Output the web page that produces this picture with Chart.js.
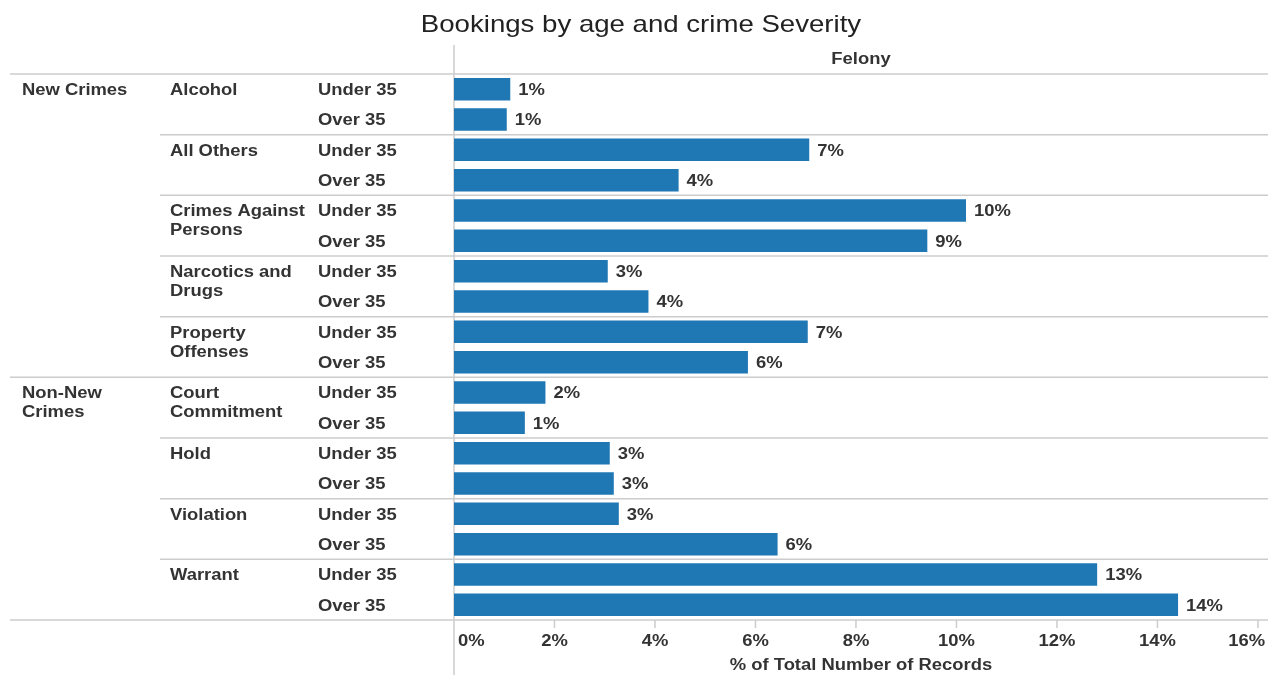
<!DOCTYPE html>
<html>
<head>
<meta charset="utf-8">
<script src="https://cdn.jsdelivr.net/npm/chart.js@4.4.1/dist/chart.umd.min.js"></script>
<style>
  html, body { margin: 0; padding: 0; background: #fff; }
  #wrap { width: 1270px; height: 675px; position: relative; }
</style>
</head>
<body>
<div id="wrap"><canvas id="chart"></canvas></div>
<script>
// data (% of total number of records, Felony)
const title = 'Bookings by age and crime Severity';
const columnHeader = 'Felony';
const axisTitle = '% of Total Number of Records';
const crimeGroups = ['New Crimes', 'Non-New Crimes'];
const newCrimeTypes = ['Alcohol', 'All Others', 'Crimes Against Persons', 'Narcotics and Drugs', 'Property Offenses'];
const nonNewCrimeTypes = ['Court Commitment', 'Hold', 'Violation', 'Warrant'];
const ageGroups = ['Under 35', 'Over 35'];
const under35 = [1.12, 7.07, 10.19, 3.06, 7.04, 1.82, 3.10, 3.28, 12.80];
const over35 = [1.05, 4.47, 9.42, 3.87, 5.85, 1.41, 3.18, 6.44, 14.41];
const xTicks = [0, 2, 4, 6, 8, 10, 12, 14, 16];

const FONT = '"Liberation Sans", Arial, sans-serif';
const TEXT = '#333333';
const LINE = '#cccccc';
const SX = 1.15; // the reference text is a bit wide

// one row per crime type and age group
const rows = [];
[newCrimeTypes, nonNewCrimeTypes].forEach((types, g) => {
  types.forEach((type, t) => {
    const i = g === 0 ? t : newCrimeTypes.length + t;
    rows.push({ group: crimeGroups[g], type: type, age: ageGroups[0], value: under35[i] });
    rows.push({ group: crimeGroups[g], type: type, age: ageGroups[1], value: over35[i] });
  });
});

function drawText(ctx, str, x, y, align) {
  ctx.save();
  ctx.translate(x, y + 1.5);
  ctx.scale(SX, 1);
  ctx.textAlign = align || 'left';
  ctx.textBaseline = 'middle';
  ctx.fillText(str, 0, 0);
  ctx.restore();
}

function wrap(ctx, str, maxWidth) {
  const words = str.split(' ');
  const lines = [];
  let line = '';
  words.forEach(w => {
    const test = line ? line + ' ' + w : w;
    if (line && ctx.measureText(test).width * SX > maxWidth) {
      lines.push(line);
      line = w;
    } else {
      line = test;
    }
  });
  lines.push(line);
  return lines;
}

function hline(ctx, y, x0, x1) {
  ctx.beginPath();
  ctx.moveTo(x0, y);
  ctx.lineTo(x1, y);
  ctx.stroke();
}

const tablePlugin = {
  id: 'table',
  beforeDatasetsDraw(chart) {
    const { ctx, chartArea: a, scales: { x, y } } = chart;
    ctx.save();
    ctx.strokeStyle = LINE;
    ctx.lineWidth = 1.5;
    hline(ctx, a.top, 10, a.right);
    hline(ctx, a.bottom, 10, a.right);
    for (let i = 2; i < rows.length; i += 2) {
      const edge = (y.getPixelForValue(i - 1) + y.getPixelForValue(i)) / 2;
      const newGroup = rows[i].group !== rows[i - 1].group;
      hline(ctx, edge, newGroup ? 10 : 160, a.right);
    }
    ctx.beginPath();
    ctx.moveTo(a.left, 45);
    ctx.lineTo(a.left, chart.height);
    ctx.stroke();
    xTicks.forEach(t => {
      if (t === 0) return;
      const px = x.getPixelForValue(t);
      ctx.beginPath();
      ctx.moveTo(px, a.bottom);
      ctx.lineTo(px, a.bottom + 8);
      ctx.stroke();
    });
    ctx.restore();
  },
  afterDraw(chart) {
    const { ctx, chartArea: a, scales: { x, y } } = chart;
    const mid = (a.left + a.right) / 2;
    ctx.save();
    ctx.fillStyle = '#222222';
    ctx.font = 'normal 24px ' + FONT;
    drawText(ctx, title, 641, 24, 'center');

    ctx.fillStyle = TEXT;
    ctx.font = 'bold 16px ' + FONT;
    drawText(ctx, columnHeader, mid, 58, 'center');

    rows.forEach((r, i) => {
      const cy = y.getPixelForValue(i);
      if (i === 0 || rows[i - 1].group !== r.group) {
        wrap(ctx, r.group, 125).forEach((ln, k) => drawText(ctx, ln, 22, cy + k * 19));
      }
      if (r.age === ageGroups[0]) {
        wrap(ctx, r.type, 142).forEach((ln, k) => drawText(ctx, ln, 170, cy + k * 19));
      }
      drawText(ctx, r.age, 318, cy);
      drawText(ctx, Math.round(r.value) + '%', x.getPixelForValue(r.value) + 8, cy);
    });

    xTicks.forEach((t, i) => {
      const px = x.getPixelForValue(t);
      if (i === 0) drawText(ctx, t + '%', px + 4, 640, 'left');
      else if (i === xTicks.length - 1) drawText(ctx, t + '%', a.right - 3, 640, 'right');
      else drawText(ctx, t + '%', px, 640, 'center');
    });
    drawText(ctx, axisTitle, mid, 664, 'center');
    ctx.restore();
  }
};

new Chart(document.getElementById('chart'), {
  type: 'bar',
  data: {
    labels: rows.map(r => r.type + ' / ' + r.age),
    datasets: [{
      data: rows.map(r => r.value),
      backgroundColor: '#1f77b4',
      borderWidth: 0,
      categoryPercentage: 1,
      barPercentage: 0.74
    }]
  },
  options: {
    indexAxis: 'y',
    responsive: true,
    maintainAspectRatio: false,
    animation: false,
    layout: { padding: { left: 454, right: 2, top: 74, bottom: 55 } },
    plugins: { legend: { display: false }, tooltip: { enabled: false }, title: { display: false } },
    scales: {
      x: { display: false, min: 0, max: 16.2 },
      y: { display: false }
    }
  },
  plugins: [tablePlugin]
});
</script>
</body>
</html>
